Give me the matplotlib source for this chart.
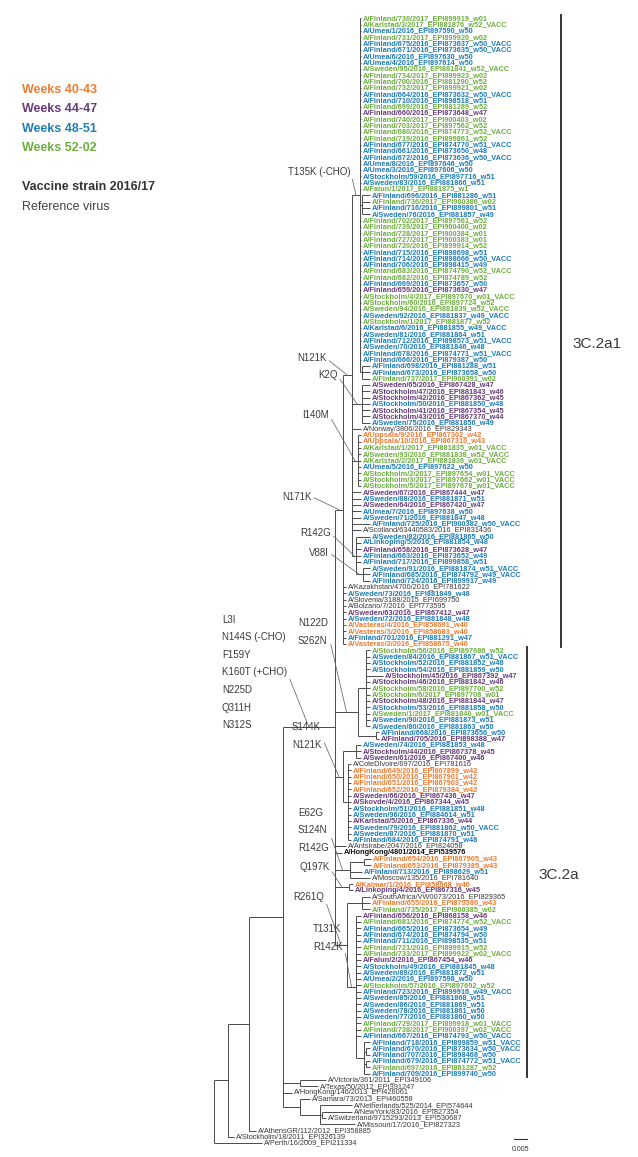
import matplotlib.pyplot as plt
from matplotlib.collections import LineCollection

# tip labels, top to bottom
strains = [
    "A/Finland/730/2017_EPI899919_w01", "A/Karlstad/3/2017_EPI881876_w52_VACC",
    "A/Umea/1/2016_EPI897590_w50", "A/Finland/731/2017_EPI899920_w02",
    "A/Finland/675/2016_EPI873637_w50_VACC", "A/Finland/671/2016_EPI873635_w50_VACC",
    "A/Umea/6/2016_EPI897630_w50", "A/Umea/4/2016_EPI897614_w50",
    "A/Sweden/95/2016_EPI881841_w52_VACC", "A/Finland/734/2017_EPI899923_w02",
    "A/Finland/700/2016_EPI881290_w52", "A/Finland/732/2017_EPI899921_w02",
    "A/Finland/664/2016_EPI873632_w50_VACC", "A/Finland/710/2016_EPI898518_w51",
    "A/Finland/699/2016_EPI881289_w52", "A/Finland/660/2016_EPI873648_w47",
    "A/Finland/740/2017_EPI900403_w02", "A/Finland/703/2017_EPI897562_w52",
    "A/Finland/680/2016_EPI874773_w52_VACC", "A/Finland/719/2016_EPI899861_w52",
    "A/Finland/677/2016_EPI874770_w51_VACC", "A/Finland/661/2016_EPI873650_w48",
    "A/Finland/672/2016_EPI873636_w50_VACC", "A/Umea/8/2016_EPI897646_w50",
    "A/Umea/3/2016_EPI897606_w50", "A/Stockholm/59/2016_EPI897716_w51",
    "A/Sweden/83/2016_EPI881866_w51", "A/Falun/1/2017_EPI881875_w1",
    "A/Finland/696/2016_EPI881286_w51", "A/Finland/736/2017_EPI900386_w02",
    "A/Finland/716/2016_EPI899801_w51", "A/Sweden/76/2016_EPI881857_w49",
    "A/Finland/702/2017_EPI897561_w52", "A/Finland/739/2017_EPI900400_w02",
    "A/Finland/728/2017_EPI900384_w01", "A/Finland/727/2017_EPI900383_w01",
    "A/Finland/720/2016_EPI899914_w52", "A/Finland/715/2016_EPI898698_w51",
    "A/Finland/714/2016_EPI898666_w50_VACC", "A/Finland/706/2016_EPI898415_w49",
    "A/Finland/683/2016_EPI874790_w52_VACC", "A/Finland/682/2016_EPI874789_w52",
    "A/Finland/669/2016_EPI873657_w50", "A/Finland/659/2016_EPI873630_w47",
    "A/Stockholm/4/2017_EPI897670_w01_VACC", "A/Stockholm/60/2016_EPI897724_w52",
    "A/Sweden/94/2016_EPI881839_w52_VACC", "A/Sweden/92/2016_EPI881837_w49_VACC",
    "A/Stockholm/1/2017_EPI881877_w52", "A/Karlstad/6/2016_EPI881855_w49_VACC",
    "A/Sweden/81/2016_EPI881864_w51", "A/Finland/712/2016_EPI898573_w51_VACC",
    "A/Sweden/70/2016_EPI881846_w48", "A/Finland/678/2016_EPI874771_w51_VACC",
    "A/Finland/666/2016_EPI879387_w50", "A/Finland/698/2016_EPI881288_w51",
    "A/Finland/673/2016_EPI873658_w50", "A/Finland/737/2017_EPI900391_w02",
    "A/Sweden/65/2016_EPI867428_w47", "A/Stockholm/47/2016_EPI881843_w46",
    "A/Stockholm/42/2016_EPI867362_w45", "A/Stockholm/50/2016_EPI881850_w48",
    "A/Stockholm/41/2016_EPI867354_w45", "A/Stockholm/43/2016_EPI867370_w44",
    "A/Sweden/75/2016_EPI881856_w49", "A/Norway/3806/2016_EPI829343",
    "A/Uppsala/9/2016_EPI867302_w42", "A/Uppsala/10/2016_EPI867310_w43",
    "A/Karlstad/1/2017_EPI881835_w01_VACC", "A/Sweden/93/2016_EPI881838_w52_VACC",
    "A/Karlstad/2/2017_EPI881836_w01_VACC", "A/Umea/5/2016_EPI897622_w50",
    "A/Stockholm/2/2017_EPI897654_w01_VACC", "A/Stockholm/3/2017_EPI897662_w01_VACC",
    "A/Stockholm/5/2017_EPI897678_w01_VACC", "A/Sweden/67/2016_EPI867444_w47",
    "A/Sweden/88/2016_EPI881871_w51", "A/Sweden/64/2016_EPI867420_w47",
    "A/Umea/7/2016_EPI897638_w50", "A/Sweden/71/2016_EPI881847_w48",
    "A/Finland/725/2016_EPI900382_w50_VACC", "A/Scotland/63440583/2016_EPI831436",
    "A/Sweden/82/2016_EPI881865_w50", "A/Linkoping/5/2016_EPI881854_w48",
    "A/Finland/658/2016_EPI873628_w47", "A/Finland/663/2016_EPI873652_w49",
    "A/Finland/717/2016_EPI899858_w51", "A/Sweden/91/2016_EPI881874_w51_VACC",
    "A/Finland/685/2016_EPI874792_w49_VACC", "A/Finland/724/2016_EPI899917_w49",
    "A/Kazakhstan/4700/2016_EPI781622", "A/Sweden/73/2016_EPI881849_w48",
    "A/Slovenia/3188/2015_EPI699750", "A/Bolzano/7/2016_EPI773595",
    "A/Sweden/63/2016_EPI867412_w47", "A/Sweden/72/2016_EPI881848_w48",
    "A/Vasteras/4/2016_EPI858691_w40", "A/Vasteras/3/2016_EPI858683_w40",
    "A/Finland/701/2016_EPI881291_w47", "A/Vasteras/2/2016_EPI858675_w40",
    "A/Stockholm/56/2016_EPI897686_w52", "A/Sweden/84/2016_EPI881867_w51_VACC",
    "A/Stockholm/52/2016_EPI881852_w48", "A/Stockholm/54/2016_EPI881859_w50",
    "A/Stockholm/45/2016_EPI867392_w47", "A/Stockholm/46/2016_EPI881842_w46",
    "A/Stockholm/58/2016_EPI897700_w52", "A/Stockholm/6/2017_EPI897708_w01",
    "A/Stockholm/48/2016_EPI881844_w47", "A/Stockholm/53/2016_EPI881858_w50",
    "A/Sweden/1/2017_EPI881840_w01_VACC", "A/Sweden/90/2016_EPI881873_w51",
    "A/Sweden/80/2016_EPI881863_w50", "A/Finland/668/2016_EPI873656_w50",
    "A/Finland/705/2016_EPI898388_w47", "A/Sweden/74/2016_EPI881853_w48",
    "A/Stockholm/44/2016_EPI867378_w45", "A/Sweden/61/2016_EPI867400_w46",
    "A/CoteDIvoire/697/2016_EPI781616", "A/Finland/649/2016_EPI867899_w42",
    "A/Finland/650/2016_EPI867901_w42", "A/Finland/651/2016_EPI867903_w42",
    "A/Finland/652/2016_EPI879384_w42", "A/Sweden/66/2016_EPI867436_w47",
    "A/Skovde/4/2016_EPI867344_w45", "A/Stockholm/51/2016_EPI881851_w48",
    "A/Sweden/96/2016_EPI884614_w51", "A/Karlstad/5/2016_EPI867336_w44",
    "A/Sweden/79/2016_EPI881862_w50_VACC", "A/Sweden/87/2016_EPI881870_w51",
    "A/Finland/684/2016_EPI874791_w48", "A/Antsirabe/2047/2016_EPI824058",
    "A/HongKong/4801/2014_EPI539576", "A/Finland/654/2016_EPI867905_w43",
    "A/Finland/653/2016_EPI879385_w43", "A/Finland/713/2016_EPI898629_w51",
    "A/Moscow/135/2016_EPI781640", "A/Kalmar/1/2016_EPI858668_w40",
    "A/Linkoping/4/2016_EPI867316_w45", "A/SouthAfrica/VW0073/2016_EPI829365",
    "A/Finland/655/2016_EPI879386_w43", "A/Finland/735/2017_EPI900385_w02",
    "A/Finland/656/2016_EPI868158_w46", "A/Finland/681/2016_EPI874774_w52_VACC",
    "A/Finland/665/2016_EPI873654_w49", "A/Finland/674/2016_EPI874794_w50",
    "A/Finland/711/2016_EPI898535_w51", "A/Finland/721/2016_EPI899915_w52",
    "A/Finland/733/2017_EPI899922_w02_VACC", "A/Falun/2/2016_EPI867454_w46",
    "A/Stockholm/49/2016_EPI881845_w48", "A/Sweden/89/2016_EPI881872_w51",
    "A/Umea/2/2016_EPI897598_w50", "A/Stockholm/57/2016_EPI897692_w52",
    "A/Finland/723/2016_EPI899916_w49_VACC", "A/Sweden/85/2016_EPI881868_w51",
    "A/Sweden/86/2016_EPI881869_w51", "A/Sweden/78/2016_EPI881861_w50",
    "A/Sweden/77/2016_EPI881860_w50", "A/Finland/729/2017_EPI899918_w01_VACC",
    "A/Finland/738/2017_EPI900397_w02_VACC", "A/Finland/667/2016_EPI874793_w50_VACC",
    "A/Finland/718/2016_EPI899859_w51_VACC", "A/Finland/670/2016_EPI873634_w50_VACC",
    "A/Finland/707/2016_EPI898468_w50", "A/Finland/679/2016_EPI874772_w51_VACC",
    "A/Finland/697/2016_EPI881287_w52", "A/Finland/709/2016_EPI899740_w50",
    "A/Victoria/361/2011_EPI349106", "A/Texas/50/2012_EPI391247",
    "A/HongKong/146/2013_EPI426061", "A/Samara/73/2013_EPI460558",
    "A/Netherlands/525/2014_EPI574644", "A/NewYork/83/2016_EPI827354",
    "A/Switzerland/9715293/2013_EPI530687", "A/Missouri/17/2016_EPI827323",
    "A/AthensGR/112/2012_EPI358885", "A/Stockholm/18/2011_EPI326139",
    "A/Perth/16/2009_EPI211334",
]
vaccine_strain = "A/HongKong/4801/2014_EPI539576"
recolor = {"A/Finland/701/2016_EPI881291_w47": "w48-51"}

# newick pieces, branch lengths in 0.001 substitutions/site,
# tips are indices into strains, internal names key the mutation labels
t135k = ("(0:0.4,1:0.4,2:0.4,3:0.4,4:0.4,5:0.4,6:0.4,7:0.4,8:0.4,9:0.4,10:0.4,11:0.4,"
         "12:0.4,13:0.4,14:0.4,15:0.4,16:0.4,17:0.4,18:0.4,19:0.4,20:0.4,21:0.4,22:0.4,"
         "23:0.4,24:0.4,25:0.4,26:0.4,27:0.4,(28:3.2,29:3.2,30:3.2,31:3.2):0.8,"
         "32:0.4,33:0.4,34:0.4,35:0.4,36:0.4,37:0.4,38:0.4,39:0.4,40:0.4,41:0.4,42:0.4,"
         "43:0.4,44:0.4,45:0.4,46:0.4,47:0.4,48:0.4,49:0.4,50:0.4,51:0.4,52:0.4,53:0.4,"
         "54:0.4,(55:3.2,56:3.2,57:3.2):0.8)T135K:3.2")
k2q = "(58:3.2,59:3.2,60:3.2,61:3.2,62:3.2,63:3.2,64:3.2)K2Q:4"
i140m = "(66:1.2,67:1.2,68:1.2,69:1.2,70:1.2,71:1.2,72:1.2,73:1.2,74:1.2)I140M:2.4"
r142g = "(82:5.6,83:2,84:2,85:2,86:2,(87:2.8,88:2.8,89:2.8)V88I:2.8)R142G:1.6"
n121k = ("(" + t135k + "," + k2q + ",65:3.6," + i140m + ",75:3.6,76:3.6,77:3.6,78:3.6,"
         "79:3.6,(80:3.2):4,81:3.6," + r142g + ")N121K:3.6")
clade_2a1 = ("(" + n121k + ",90:1.2,91:1.2,92:1.2,93:1.2,94:1.2,95:1.2,96:1.2,97:1.2,"
             "98:1.2,99:1.2)N171K:3.2")
n122d = ("((100:1.6,101:1.6,102:1.6,103:1.6,104:6.8,105:1.6,106:1.6,107:1.6,108:1.6,"
         "109:1.6,110:1.6,111:1.6,112:1.6):3.2,(113:1.2,114:1.2):7.2)N122D:9.2")
s144k = ("((115:2,116:2,117:2):5.2,(118:1.2,119:1.2,120:1.2,121:1.2,122:1.2,123:1.2,"
         "124:1.2,125:1.2,126:1.2,127:1.2,128:1.2,129:1.2,130:1.2):2)S144K:3.2")
e62g = "((133:2.8,134:2.8):5.6,135:4.8,136:8)E62G:6"
q197k = "(137:1.6,138:1.6)Q197K:5.6"
t131k = ("(142:2,143:2,144:2,145:2,146:2,147:2,148:2,149:2,150:2,151:2,152:2,153:2,"
         "154:2,155:2,156:2,157:2,158:2,159:2,160:2,161:2,(162:2.4,(163:1.6,164:1.6):0.8,"
         "(165:1.6,166:1.6):0.8,167:2.4):3.2)T131K:3.6")
r261q = "((139:3.2,140:3.2,141:3.2):6," + t131k + ")R261Q:4.8"
clade_2a = ("(" + clade_2a1 + "," + n122d + "," + s144k + ",131:4.4,132:2.8," + e62g + ","
            + q197k + "," + r261q + ")L3I:20.8")
outgroup_a = "(168:10.4,169:7.2):6.8"
outgroup_b = "(171:4,(172:12.8,(173:12,174:1.6):0.8,175:14):8):6.8"
newick = ("((((" + clade_2a + "," + outgroup_a + ",170:3.6," + outgroup_b
          + "):13.6,176:2.8):8.4,177:2.4):5.6,178:19.2)")

mutation_text = {
    "T135K": "T135K (-CHO)", "N121K": "N121K", "K2Q": "K2Q", "I140M": "I140M",
    "N171K": "N171K", "R142G": "R142G", "V88I": "V88I",
    "L3I": "L3I\nN144S (-CHO)\nF159Y\nK160T (+CHO)\nN225D\nQ311H\nN312S",
    "N122D": "N122D\nS262N", "S144K": "S144K\nN121K", "E62G": "E62G\nS124N\nR142G",
    "Q197K": "Q197K", "R261Q": "R261Q", "T131K": "T131K\nR142K",
}
clades = [("3C.2a1", 0, 99), ("3C.2a", 100, 167)]
week_groups = ["Weeks 40-43", "Weeks 44-47", "Weeks 48-51", "Weeks 52-02"]

# where each mutation label sits (px from top-left, centre of first line)
label_pos = {
    "T135K": (288, 172), "N121K": (297, 359), "K2Q": (318, 376), "I140M": (302, 415),
    "N171K": (282, 497), "R142G": (300, 534), "V88I": (309, 553), "L3I": (222, 620),
    "N122D": (298, 624), "S144K": (292, 728), "E62G": (298, 813), "Q197K": (299, 868),
    "R261Q": (293, 897), "T131K": (313, 930),
}
colors = {"w40-43": "#EE7C31", "w44-47": "#673C78", "w48-51": "#1F7DB5", "w52-02": "#6CAE3F"}
W, H = 638, 1157
plt.rcParams['font.family'] = ['Liberation Sans', 'DejaVu Sans']


def parse(s):
    pos = 0

    def read_token():
        nonlocal pos
        j = pos
        while j < len(s) and s[j] not in ':,();':
            j += 1
        tok = s[pos:j]
        pos = j
        return tok

    def node():
        nonlocal pos
        kids, leaf, name = [], None, None
        if s[pos] == '(':
            pos += 1
            while True:
                kids.append(node())
                if s[pos] == ',':
                    pos += 1
                else:
                    break
            pos += 1
            name = read_token() or None
        else:
            leaf = int(read_token())
        bl = 0.0
        if pos < len(s) and s[pos] == ':':
            pos += 1
            bl = float(read_token())
        return {'leaf': leaf, 'name': name, 'kids': kids, 'bl': bl}
    return node()


def week_group(name):
    if name in recolor:
        return recolor[name]
    wk = [p for p in name.split("_") if p.startswith("w") and p[1:].isdigit()]
    if not wk:
        return None
    w = int(wk[0][1:])
    if 40 <= w <= 43:
        return "w40-43"
    if 44 <= w <= 47:
        return "w44-47"
    if 48 <= w <= 51:
        return "w48-51"
    return "w52-02"


segs, tips, branch_mid = [], [], {}
counter = [0]


def layout(nd, px):
    x = px + nd['bl']
    if nd['leaf'] is not None:
        y = counter[0]
        counter[0] += 1
        tips.append((nd['leaf'], x, y))
    else:
        ys = [layout(k, x) for k in nd['kids']]
        y = (ys[0] + ys[-1]) / 2
        if len(ys) > 1:
            segs.append([(x, ys[0]), (x, ys[-1])])
    segs.append([(px, y), (x, y)])
    if nd['name']:
        branch_mid[nd['name']] = ((px + x) / 2, y)
    return y


tree = parse(newick)
assert len(strains) == 179
layout(tree, 0.0)
assert len(tips) == 179

fig = plt.figure(figsize=(W / 100, H / 100), dpi=100)
ax = fig.add_axes([0, 0, 1, 1])
px_per_unit = 2.5
root_px = 214
y0, dy = 18.3, 6.32
ax.set_xlim(-root_px / px_per_unit, (W - root_px) / px_per_unit)
ax.set_ylim((H - y0) / dy, -y0 / dy)
ax.axis('off')

ax.add_collection(LineCollection(segs, colors="#4a4a4a", linewidths=0.7))

fs_tip = 5.35
for idx, x, y in tips:
    name = strains[idx]
    g = week_group(name)
    if g:
        ax.text(x + 0.6, y, name, color=colors[g], fontsize=fs_tip, fontweight='bold',
                va='center', ha='left')
    elif name == vaccine_strain:
        ax.text(x + 0.6, y, name, color="#111111", fontsize=fs_tip, fontweight='bold',
                va='center', ha='left')
    else:
        ax.text(x + 0.6, y, name, color="#3a3a3a", fontsize=fs_tip, va='center', ha='left')


def fpx(x, y):
    return x / W, 1 - y / H


# clade bars
bar_x = {"3C.2a1": 561, "3C.2a": 527}
for name, a, b in clades:
    bx = (bar_x[name] - root_px) / px_per_unit
    ax.plot([bx, bx], [a - 0.5, b + 0.5], color="#222222", lw=1.3)
    ax.text(bx + 4.5, (a + b) / 2 + 2, name, fontsize=11, color="#3a3a3a",
            va='center', ha='left')

# mutation labels with leader lines to their branch
for key, txt in mutation_text.items():
    tx, ty = label_pos[key]
    ax.annotate(txt, xy=branch_mid[key], xycoords='data',
                xytext=fpx(tx, ty - 5.5), textcoords='figure fraction',
                fontsize=7, color="#3a3a3a", va='top', ha='left', linespacing=1.95,
                arrowprops=dict(arrowstyle='-', color="#666666", lw=0.55,
                                shrinkA=0, shrinkB=0, relpos=(1.0, 0.5)))

# legend
for i, (lab, c) in enumerate(zip(week_groups, colors.values())):
    fig.text(*fpx(22, 90 + i * 19.3), lab, color=c, fontsize=9, fontweight='bold',
             va='center')
fig.text(*fpx(22, 187), "Vaccine strain 2016/17", color="#333333", fontsize=9,
         fontweight='bold', va='center')
fig.text(*fpx(22, 207), "Reference virus", color="#444444", fontsize=9, va='center')

# scale bar
sb_x = (514 - root_px) / px_per_unit
ax.plot([sb_x, sb_x + 5], [177.3, 177.3], color="#333333", lw=0.8)
ax.text(sb_x + 2.5, 178.4, "0.005", fontsize=5, ha='center', va='top', color="#333333")

fig.savefig("out.png", dpi=100)
